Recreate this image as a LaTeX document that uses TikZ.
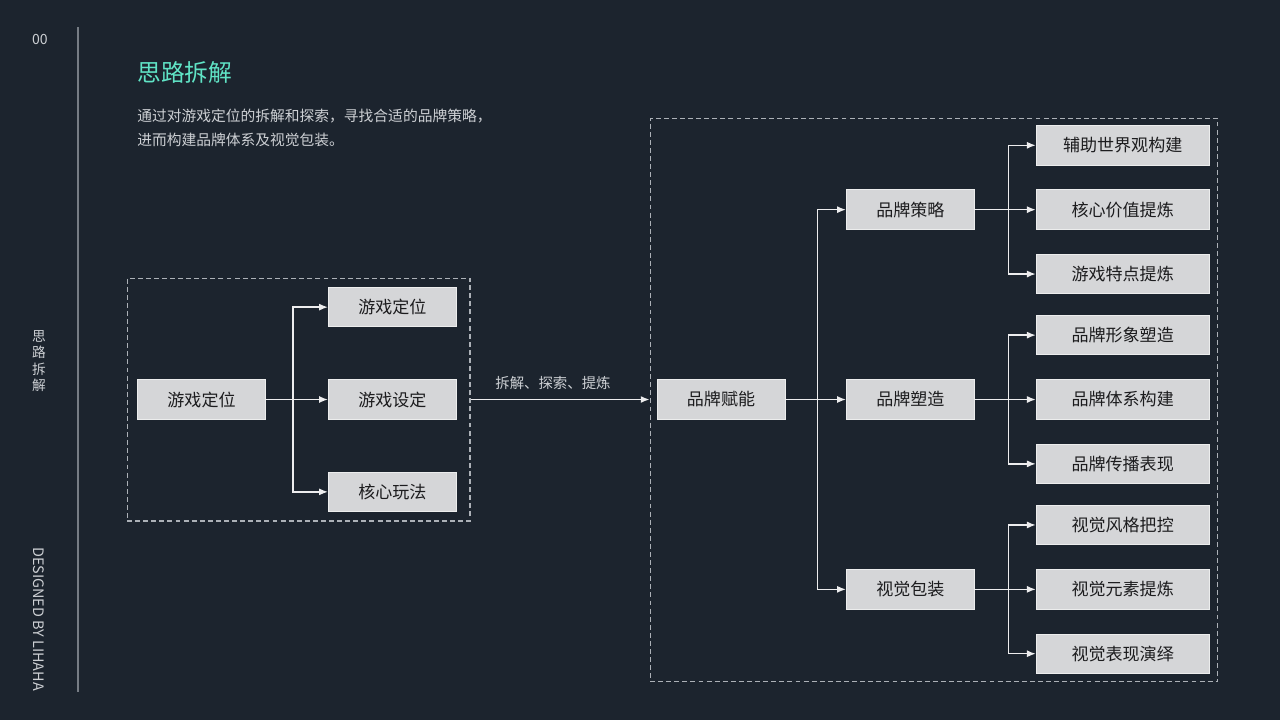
\documentclass[tikz,border=0pt]{standalone}
\usepackage{fontspec}
\setmainfont{Noto Sans CJK SC}
\usetikzlibrary{positioning,arrows.meta,calc}
\definecolor{navybg}{RGB}{28,36,46}
\definecolor{boxgrey}{RGB}{213,214,216}
\definecolor{inkdark}{RGB}{28,28,30}
\definecolor{mint}{RGB}{96,228,198}
\definecolor{softgrey}{RGB}{205,208,212}
\definecolor{rulegrey}{RGB}{118,124,132}
\definecolor{dashgrey}{RGB}{172,177,183}
\tikzset{
  >={Latex[length=5pt,width=4pt]},
  box/.style={
    fill           = boxgrey,
    draw           = white!55!boxgrey,
    line width     = 0.5pt,
    text           = inkdark,
    minimum width  = 2.56cm,
    minimum height = 0.79cm,
    inner sep      = 0pt,
    font           = \fontsize{9.7}{11}\selectfont},
  widebox/.style={
    box,
    minimum width  = 3.46cm},
  zone/.style={
    draw         = dashgrey,
    line width   = 0.6pt,
    dash pattern = on 2.8pt off 1.8pt},
  link/.style={
    ->,
    draw       = white!92!navybg,
    line width = 0.8pt},
  note/.style={
    text      = softgrey,
    inner sep = 1pt,
    font      = \fontsize{8.2}{13.7}\selectfont}
}

\begin{document}
\begin{tikzpicture}[x=0.02cm, y=-0.02cm]

% page
\fill[navybg] (0,0) rectangle (1280,720);
\useasboundingbox (0,0) rectangle (1280,720);

% side bar
\draw[rulegrey, line width=0.6pt] (78,27) -- (78,692);
\node[note, font=\fontsize{8}{9}\selectfont] (pageno) at (40,39) {00};
\node[note, align=center, font=\fontsize{7.8}{9.4}\selectfont] (sidetitle) at (39,361)
  {思\\路\\拆\\解};
\node[note, rotate=-90, font=\fontsize{8.2}{9}\selectfont] (designer) at (39,619)
  {DESIGNED BY LIHAHA};

% heading
\node[anchor=west, inner sep=0pt, text=mint, font=\fontsize{13.5}{16}\selectfont]
  (title) at (137,73) {思路拆解};
\node[note, anchor=west, align=left, inner sep=0pt,
      font=\fontsize{8.4}{13.7}\selectfont] (intro) at (137,128)
  {通过对游戏定位的拆解和探索，寻找合适的品牌策略，\\
   进而构建品牌体系及视觉包装。};

% left part
\node[box] (gameL) at (201.5,399.5) {游戏定位};
\node[box, right = 1.24cm of gameL] (gameSet) {游戏设定};
\node[box, above = 1.04cm of gameSet] (gamePos) {游戏定位};
\node[box, below = 1.04cm of gameSet] (corePlay) {核心玩法};

\node[zone, minimum width=6.86cm, minimum height=4.86cm] (leftzone) at (298.5,399.5) {};

\draw[link] (gameL.east) -- ++(27,0) |- (gamePos.west);
\draw[link] (gameL.east) -- (gameSet.west);
\draw[link] (gameL.east) -- ++(27,0) |- (corePlay.west);

% right part
\node[box] (brandE) at (721,399.5) {品牌赋能};

\node[box, right = 1.21cm of brandE] (brandShape) {品牌塑造};
\node[box, above = 2.99cm of brandShape] (brandPlan) {品牌策略};
\node[box, below = 2.99cm of brandShape] (visualPack) {视觉包装};

\node[widebox, right = 1.22cm of brandPlan] (coreValue) {核心价值提炼};
\node[widebox, above = 0.48cm of coreValue] (worldView) {辅助世界观构建};
\node[widebox, below = 0.48cm of coreValue] (gameTrait) {游戏特点提炼};

\node[widebox, right = 1.22cm of brandShape] (brandSys) {品牌体系构建};
\node[widebox, above = 0.48cm of brandSys] (brandImg) {品牌形象塑造};
\node[widebox, below = 0.48cm of brandSys] (brandSpread) {品牌传播表现};

\node[widebox, right = 1.22cm of visualPack] (visElem) {视觉元素提炼};
\node[widebox, above = 0.48cm of visElem] (visStyle) {视觉风格把控};
\node[widebox, below = 0.48cm of visElem] (visShow) {视觉表现演绎};

\node[zone, minimum width=11.36cm, minimum height=11.28cm] (rightzone) at (934,400) {};

\draw[link] (brandE.east) -- ++(32,0) |- (brandPlan.west);
\draw[link] (brandE.east) -- (brandShape.west);
\draw[link] (brandE.east) -- ++(32,0) |- (visualPack.west);

\foreach \src/\top/\mid/\bot in {brandPlan/worldView/coreValue/gameTrait,
    brandShape/brandImg/brandSys/brandSpread,
    visualPack/visStyle/visElem/visShow}{
  \draw[link] (\src.east) -- ++(34,0) |- (\top.west);
  \draw[link] (\src.east) -- (\mid.west);
  \draw[link] (\src.east) -- ++(34,0) |- (\bot.west);
}

% between the parts
\draw[link] (leftzone.east) -- (leftzone.east -| rightzone.west)
  node[midway, above=4pt, xshift=-4pt, note] (steps) {拆解、探索、提炼};

\end{tikzpicture}
\end{document}
